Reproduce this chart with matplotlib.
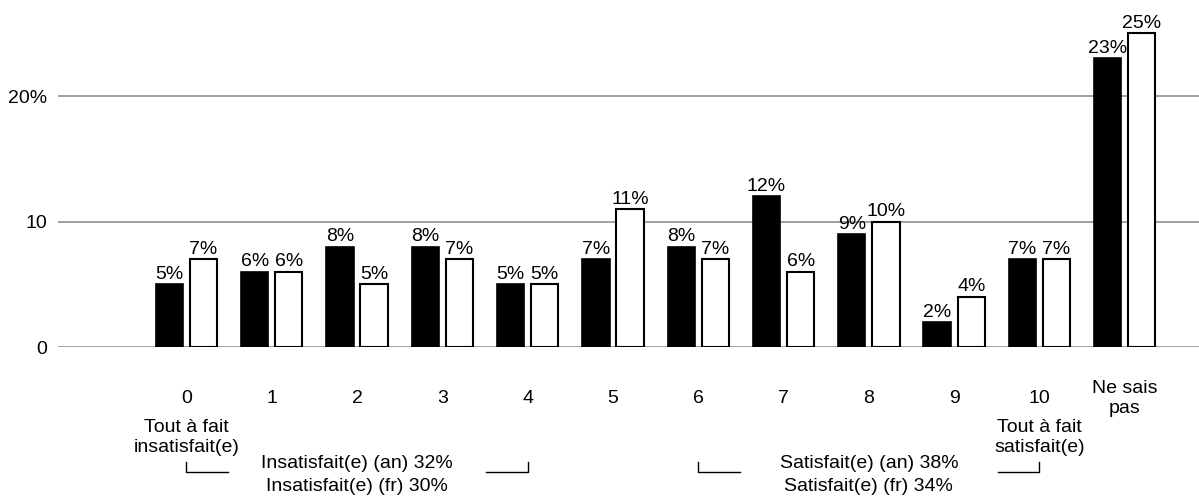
import numpy as np
import matplotlib
matplotlib.use("Agg")
import matplotlib.pyplot as plt

plt.rcParams['font.family'] = ['Liberation Sans', 'DejaVu Sans']

# data
categories = ['0', '1', '2', '3', '4', '5', '6', '7', '8', '9', '10', 'Ne sais\npas']
an_vals = [5, 6, 8, 8, 5, 7, 8, 12, 9, 2, 7, 23]   # black bars
fr_vals = [7, 6, 5, 7, 5, 11, 7, 6, 10, 4, 7, 25]  # white bars
yticks = [0, 10, 20]
ytick_labels = ['0', '10', '20%']
end_labels = {0: 'Tout à fait\ninsatisfait(e)', 10: 'Tout à fait\nsatisfait(e)'}
groups = [(0, 4, 'Insatisfait(e) (an) 32%\nInsatisfait(e) (fr) 30%'),
          (6, 10, 'Satisfait(e) (an) 38%\nSatisfait(e) (fr) 34%')]

fs = 14
fig = plt.figure(figsize=(11.99, 4.99), dpi=100)
ax = fig.add_axes([58 / 1199, (499 - 347) / 499, (1199 - 58) / 1199, 347 / 499])

x = np.arange(len(categories))
w = 0.32
off = 0.2

# gridlines first so bars sit on top
for t in yticks:
    ax.axhline(t, color='#858585', lw=1.1, zorder=0)

b1 = ax.bar(x - off, an_vals, w, color='black', edgecolor='black', lw=1.2, zorder=2)
b2 = ax.bar(x + off, fr_vals, w, color='white', edgecolor='black', lw=1.5, zorder=2)

for bars, vals in [(b1, an_vals), (b2, fr_vals)]:
    for r, v in zip(bars, vals):
        ax.annotate(f'{v}%', (r.get_x() + r.get_width() / 2, v),
                    xytext=(0, 1), textcoords='offset points',
                    ha='center', va='bottom', fontsize=fs)

ax.set_xlim(-1.506, 11.87)
ax.set_ylim(0, 27.65)
for s in ax.spines.values():
    s.set_visible(False)

ax.set_yticks(yticks, ytick_labels, fontsize=fs)
ax.tick_params(axis='y', length=0, pad=8)
ax.set_xticks(x, categories, fontsize=fs)
ax.tick_params(axis='x', length=0, pad=37)
plt.setp(ax.get_xticklabels(), va='center', linespacing=1.2)

# end-point descriptions
for i, txt in end_labels.items():
    ax.annotate(txt, (i, 0), xycoords=('data', 'axes fraction'),
                xytext=(0, -65), textcoords='offset points',
                ha='center', va='center', fontsize=fs, linespacing=1.2)

# group brackets and totals
tr = ax.get_xaxis_transform()
y_top = -115 / 347
y_bot = -125 / 347
for a, b, txt in groups:
    ax.plot([a, a, a + 0.49], [y_top, y_bot, y_bot], color='black', lw=1.0,
            transform=tr, clip_on=False)
    ax.plot([b - 0.49, b, b], [y_bot, y_bot, y_top], color='black', lw=1.0,
            transform=tr, clip_on=False)
    ax.annotate(txt, ((a + b) / 2, 0), xycoords=('data', 'axes fraction'),
                xytext=(0, -92), textcoords='offset points',
                ha='center', va='center', fontsize=fs, linespacing=1.45)

fig.savefig('out.png', dpi=100)
